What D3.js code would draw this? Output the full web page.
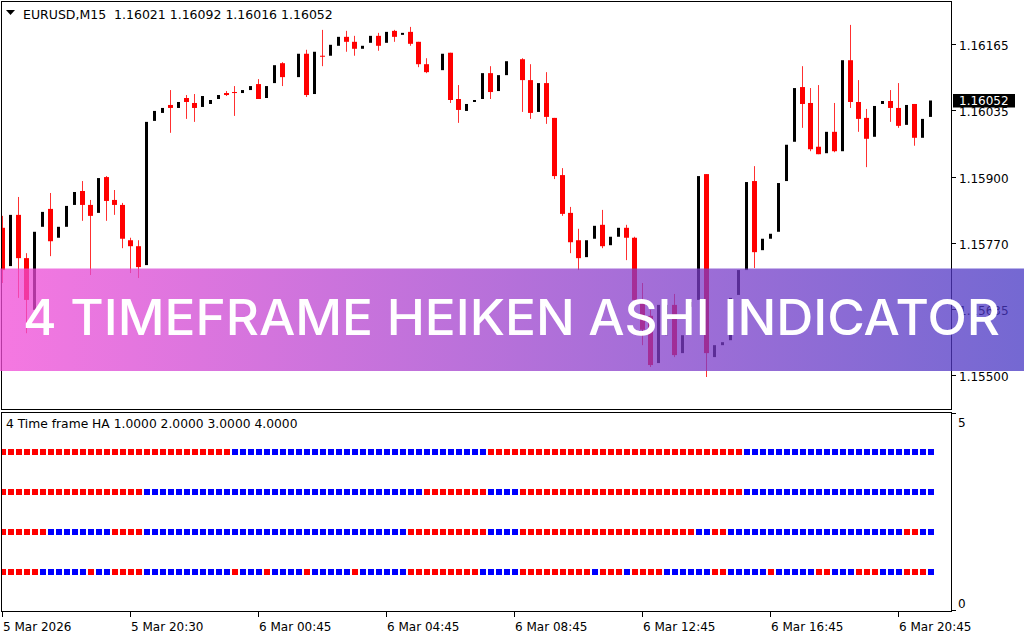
<!DOCTYPE html>
<html>
<head>
<meta charset="utf-8">
<script src="https://cdn.jsdelivr.net/npm/d3@7"></script>
<style>
  html, body { margin: 0; padding: 0; background: #fff; }
  svg { display: block; }
</style>
</head>
<body>
<div id="chart"></div>
<script>
// Heiken Ashi bars, EURUSD M15 (one value per bar)
var haOpen = [
  1.15796, 1.15719, 1.15822, 1.15735, 1.15631, 1.15798, 1.15834, 1.15776, 1.15798, 1.15842,
  1.15870, 1.15842, 1.15826, 1.15898, 1.15852, 1.15842, 1.15771, 1.15759, 1.15721, 1.16011,
  1.16027, 1.16043, 1.16037, 1.16057, 1.16047, 1.16039, 1.16045, 1.16055, 1.16067, 1.16069,
  1.16067, 1.16073, 1.16085, 1.16057, 1.16087, 1.16127, 1.16101, 1.16099, 1.16146, 1.16065,
  1.16142, 1.16142, 1.16162, 1.16180, 1.16170, 1.16156, 1.16168, 1.16182, 1.16168, 1.16192,
  1.16184, 1.16190, 1.16170, 1.16125, 1.16123, 1.16113, 1.16148, 1.16055, 1.16031, 1.16049,
  1.16055, 1.16107, 1.16071, 1.16103, 1.16129, 1.16135, 1.16093, 1.16029, 1.16087, 1.16017,
  1.15902, 1.15826, 1.15771, 1.15737, 1.15774, 1.15802, 1.15761, 1.15778, 1.15796, 1.15776,
  1.15651, 1.15619, 1.15524, 1.15580, 1.15641, 1.15544, 1.15637, 1.15651, 1.15904, 1.15536,
  1.15560, 1.15570, 1.15661, 1.15711, 1.15890, 1.15751, 1.15774, 1.15788, 1.15890, 1.15969,
  1.16079, 1.16047, 1.15959, 1.15946, 1.15989, 1.15950, 1.16133, 1.16049, 1.16017, 1.15979,
  1.16045, 1.16051, 1.16037, 1.16003, 1.16045, 1.15977, 1.16019
];
var haHigh = [
  1.15820, 1.15822, 1.15858, 1.15745, 1.15788, 1.15828, 1.15866, 1.15798, 1.15840, 1.15868,
  1.15890, 1.15852, 1.15896, 1.15900, 1.15872, 1.15846, 1.15776, 1.15771, 1.16009, 1.16031,
  1.16037, 1.16073, 1.16049, 1.16063, 1.16065, 1.16061, 1.16053, 1.16063, 1.16071, 1.16081,
  1.16073, 1.16081, 1.16095, 1.16081, 1.16123, 1.16129, 1.16101, 1.16146, 1.16154, 1.16150,
  1.16194, 1.16164, 1.16180, 1.16192, 1.16182, 1.16162, 1.16182, 1.16188, 1.16190, 1.16194,
  1.16188, 1.16200, 1.16170, 1.16137, 1.16123, 1.16146, 1.16148, 1.16083, 1.16045, 1.16053,
  1.16107, 1.16121, 1.16103, 1.16131, 1.16129, 1.16137, 1.16125, 1.16087, 1.16109, 1.16017,
  1.15916, 1.15838, 1.15794, 1.15771, 1.15800, 1.15832, 1.15778, 1.15796, 1.15802, 1.15778,
  1.15685, 1.15631, 1.15641, 1.15641, 1.15663, 1.15580, 1.15647, 1.15900, 1.15904, 1.15560,
  1.15566, 1.15655, 1.15711, 1.15888, 1.15920, 1.15774, 1.15784, 1.15886, 1.15963, 1.16077,
  1.16121, 1.16077, 1.16083, 1.15989, 1.16047, 1.16133, 1.16204, 1.16093, 1.16035, 1.16041,
  1.16051, 1.16073, 1.16087, 1.16043, 1.16045, 1.16015, 1.16052
];
var haLow = [
  1.15685, 1.15719, 1.15655, 1.15584, 1.15631, 1.15798, 1.15739, 1.15776, 1.15798, 1.15842,
  1.15810, 1.15701, 1.15826, 1.15810, 1.15822, 1.15755, 1.15705, 1.15695, 1.15721, 1.16011,
  1.16027, 1.15987, 1.16037, 1.16015, 1.16009, 1.16039, 1.16045, 1.16055, 1.16061, 1.16021,
  1.16067, 1.16073, 1.16055, 1.16057, 1.16087, 1.16081, 1.16101, 1.16099, 1.16059, 1.16065,
  1.16121, 1.16142, 1.16162, 1.16150, 1.16142, 1.16156, 1.16168, 1.16152, 1.16168, 1.16170,
  1.16184, 1.16162, 1.16119, 1.16107, 1.16123, 1.16113, 1.16047, 1.16007, 1.16031, 1.16049,
  1.16055, 1.16055, 1.16071, 1.16103, 1.16129, 1.16029, 1.16015, 1.16029, 1.16005, 1.15894,
  1.15820, 1.15745, 1.15711, 1.15737, 1.15774, 1.15755, 1.15761, 1.15778, 1.15731, 1.15647,
  1.15560, 1.15516, 1.15524, 1.15580, 1.15536, 1.15544, 1.15637, 1.15651, 1.15496, 1.15536,
  1.15560, 1.15570, 1.15661, 1.15711, 1.15715, 1.15751, 1.15774, 1.15788, 1.15890, 1.15969,
  1.15997, 1.15950, 1.15944, 1.15946, 1.15948, 1.15950, 1.16037, 1.15989, 1.15918, 1.15979,
  1.16045, 1.16009, 1.15997, 1.16003, 1.15961, 1.15977, 1.16019
];
var haClose = [
  1.15711, 1.15822, 1.15735, 1.15651, 1.15788, 1.15828, 1.15769, 1.15798, 1.15840, 1.15868,
  1.15842, 1.15820, 1.15896, 1.15850, 1.15842, 1.15774, 1.15759, 1.15717, 1.16009, 1.16031,
  1.16037, 1.16037, 1.16049, 1.16049, 1.16037, 1.16061, 1.16053, 1.16063, 1.16063, 1.16067,
  1.16073, 1.16081, 1.16055, 1.16081, 1.16123, 1.16099, 1.16101, 1.16146, 1.16063, 1.16150,
  1.16140, 1.16164, 1.16180, 1.16170, 1.16156, 1.16162, 1.16182, 1.16162, 1.16190, 1.16180,
  1.16188, 1.16166, 1.16125, 1.16109, 1.16123, 1.16146, 1.16053, 1.16033, 1.16045, 1.16053,
  1.16107, 1.16069, 1.16103, 1.16131, 1.16129, 1.16093, 1.16027, 1.16087, 1.16019, 1.15900,
  1.15824, 1.15767, 1.15735, 1.15771, 1.15800, 1.15759, 1.15778, 1.15796, 1.15776, 1.15651,
  1.15591, 1.15520, 1.15641, 1.15641, 1.15540, 1.15580, 1.15647, 1.15900, 1.15544, 1.15560,
  1.15566, 1.15655, 1.15711, 1.15888, 1.15747, 1.15774, 1.15784, 1.15886, 1.15963, 1.16077,
  1.16045, 1.15954, 1.15944, 1.15989, 1.15950, 1.16133, 1.16049, 1.16015, 1.15975, 1.16041,
  1.16051, 1.16037, 1.16001, 1.16043, 1.15977, 1.16015, 1.16052
];

// 4 timeframe HA trend per bar: R = bearish, B = bullish
var tf1Trend = "RRRRRRRRRRRRRRRRRRRRRRRRRRRRRBBBBBBBBBBBBBBBBBBBBBBBBBBBBBBBBRRRRRRRRRRRRRRRRRRRRRRRRRRRRRRRRBBBBBBBBBBBBBBBBBBBBBBBB";
var tf2Trend = "RRRRRRRRRRRRRRRRRRBBBBBBBBBBBBBBBBBBBBBBBBBBBBBBBBBBBRRRRRRRRBBBBRRRRRRRRRRRRRRRRRRRRRRRRRRRRBBBBBBBBBBBBBBBBBBBBBBBB";
var tf3Trend = "RRRRRRBBBBBBBBRRRRBBBBBBBBBBBBBBBBBBBBBBBBBBBBBBBBBRRRRRRRRRRBBBBRRRRRRRRRRRRRRRRRRRRRRBBRRBBBBBBBBBBBBBBBBBBBBBBRRBB";
var tf4Trend = "RRRRRBBBBBBRBBRRRRBBBBBBBBBBBRBBBRBBBBRBBBBBRBBBBBBRRRRRRRRRBBBBBRRRRRRRRRBRRRBRRRRBBBBBBRRBBBBBRBBBBBRRBBBRRRBBBRRRB";
var trendRows = [tf1Trend, tf2Trend, tf3Trend, tf4Trend];
var trendLevels = [4, 3, 2, 1];

var priceTicks = [1.15500, 1.15633, 1.15766, 1.15899, 1.16032, 1.16165];
var priceTickLabels = ['1.15500', '1.15635', '1.15770', '1.15900', '1.16035', '1.16165'];
var timeTickBars = [0, 16, 32, 48, 64, 80, 96, 112];
var timeTickLabels = ['5 Mar 2026', '5 Mar 20:30', '6 Mar 00:45', '6 Mar 04:45',
  '6 Mar 08:45', '6 Mar 12:45', '6 Mar 16:45', '6 Mar 20:45'];
var lastPrice = 1.16052;
var headerText = 'EURUSD,M15  1.16021 1.16092 1.16016 1.16052';
var indicatorTitle = '4 Time frame HA 1.0000 2.0000 3.0000 4.0000';
var bannerText = '4 TIMEFRAME HEIKEN ASHI INDICATOR';

var W = 1024, H = 640;
var font = "'DejaVu Sans', Tahoma, sans-serif";

var svg = d3.select('#chart').append('svg')
  .attr('width', W)
  .attr('height', H);

var x = d3.scaleLinear().domain([0, haOpen.length - 1]).range([2.5, 2.5 + 8 * (haOpen.length - 1)]);
var y = d3.scaleLinear().domain([1.15500, 1.16165]).range([375, 44.3]);
var yInd = d3.scaleLinear().domain([0, 5]).range([612, 412]);

svg.append('rect').attr('width', W).attr('height', H).attr('fill', '#fff');

// main pane
var bars = haOpen.map(function(o, i) {
  return {i: i, o: o, h: haHigh[i], l: haLow[i], c: haClose[i]};
});

var plot = svg.append('g');
plot.append('defs').append('clipPath').attr('id', 'mainclip')
  .append('rect').attr('x', 2).attr('y', 2).attr('width', 950).attr('height', 407);

var candles = plot.append('g').attr('clip-path', 'url(#mainclip)');

// bearish wicks only (bullish wick is drawn white in MT4)
candles.selectAll('line.wick')
  .data(bars.filter(function(d) { return d.c < d.o; }))
  .enter().append('line')
    .attr('class', 'wick')
    .attr('x1', function(d) { return x(d.i); })
    .attr('x2', function(d) { return x(d.i); })
    .attr('y1', function(d) { return y(d.h); })
    .attr('y2', function(d) { return y(d.l); })
    .attr('stroke', '#ff3030')
    .attr('stroke-width', 1);

candles.selectAll('rect.body')
  .data(bars.filter(function(d) { return d.c !== d.o; }))
  .enter().append('rect')
    .attr('class', 'body')
    .attr('x', function(d) { return d.c < d.o ? x(d.i) - 2.5 : x(d.i) - 1.5; })
    .attr('width', function(d) { return d.c < d.o ? 5 : 3; })
    .attr('y', function(d) { return y(Math.max(d.o, d.c)); })
    .attr('height', function(d) { return Math.max(1, Math.abs(y(d.o) - y(d.c))); })
    .attr('fill', function(d) { return d.c < d.o ? '#ff0000' : '#000000'; });

// frames
svg.append('rect').attr('x', 1.5).attr('y', 1.5).attr('width', 950).attr('height', 408)
  .attr('fill', 'none').attr('stroke', '#000');
svg.append('rect').attr('x', 1.5).attr('y', 412.5).attr('width', 950).attr('height', 199)
  .attr('fill', 'none').attr('stroke', '#000');

// header
svg.append('path').attr('d', 'M6,10L15,10L10.5,15Z').attr('fill', '#000');
svg.append('text').attr('x', 23).attr('y', 19)
  .attr('font-family', font).attr('font-size', 12.5).attr('fill', '#000')
  .style('white-space', 'pre')
  .text(headerText);

// price axis
var pAxis = svg.append('g');
pAxis.selectAll('line').data(priceTicks).enter().append('line')
  .attr('x1', 952).attr('x2', 956)
  .attr('y1', function(d) { return Math.round(y(d)) + 0.5; })
  .attr('y2', function(d) { return Math.round(y(d)) + 0.5; })
  .attr('stroke', '#000');
pAxis.selectAll('text').data(priceTicks).enter().append('text')
  .attr('x', 959)
  .attr('y', function(d) { return y(d) + 6; })
  .attr('font-family', font).attr('font-size', 12).attr('fill', '#000')
  .text(function(d, i) { return priceTickLabels[i]; });

// last price marker
svg.append('rect').attr('x', 953).attr('y', y(lastPrice) - 6.5)
  .attr('width', 62).attr('height', 13.5).attr('fill', '#000');
svg.append('text').attr('x', 959).attr('y', y(lastPrice) + 5)
  .attr('font-family', font).attr('font-size', 12).attr('fill', '#fff')
  .text(lastPrice.toFixed(5));

// indicator pane
svg.append('text').attr('x', 6).attr('y', 428)
  .attr('font-family', font).attr('font-size', 12.3).attr('fill', '#000')
  .text(indicatorTitle);

var dots = svg.append('g');
trendRows.forEach(function(row, r) {
  var cells = row.split('').map(function(s, i) { return {i: i, s: s}; });
  dots.selectAll('rect.r' + r).data(cells).enter().append('rect')
    .attr('class', 'r' + r)
    .attr('x', function(d) { return Math.max(2, x(d.i) - 2.5); })
    .attr('width', function(d) { return x(d.i) + 3.5 - Math.max(2, x(d.i) - 2.5); })
    .attr('y', yInd(trendLevels[r]) - 3)
    .attr('height', 6)
    .attr('fill', function(d) { return d.s === 'R' ? '#ff0000' : '#0000ff'; });
});

svg.append('line').attr('x1', 952).attr('x2', 956).attr('y1', 413.5).attr('y2', 413.5).attr('stroke', '#000');
svg.append('line').attr('x1', 952).attr('x2', 956).attr('y1', 610.5).attr('y2', 610.5).attr('stroke', '#000');
svg.append('text').attr('x', 958).attr('y', yInd(5) + 15)
  .attr('font-family', font).attr('font-size', 12).text('5');
svg.append('text').attr('x', 958).attr('y', yInd(0) - 4)
  .attr('font-family', font).attr('font-size', 12).text('0');

// time axis
var tAxis = svg.append('g');
tAxis.selectAll('line').data(timeTickBars).enter().append('line')
  .attr('x1', function(d) { return Math.floor(x(d)) + 0.5; })
  .attr('x2', function(d) { return Math.floor(x(d)) + 0.5; })
  .attr('y1', 612).attr('y2', 617)
  .attr('stroke', '#000');
tAxis.selectAll('text').data(timeTickBars).enter().append('text')
  .attr('x', function(d) { return Math.floor(x(d)) + 1; })
  .attr('y', 631)
  .attr('font-family', font).attr('font-size', 12).attr('fill', '#000')
  .text(function(d, i) { return timeTickLabels[i]; });

// promo banner over the chart
var grad = svg.append('defs').append('linearGradient').attr('id', 'bannergrad')
  .attr('x1', '0%').attr('x2', '100%').attr('y1', '0%').attr('y2', '0%');
grad.append('stop').attr('offset', '0%').attr('stop-color', '#f24bd7');
grad.append('stop').attr('offset', '100%').attr('stop-color', '#4636c3');

svg.append('rect').attr('x', 0).attr('y', 268.5).attr('width', W).attr('height', 102.5)
  .attr('fill', 'url(#bannergrad)').attr('opacity', 0.75);
svg.append('text').attr('x', 23).attr('y', 335)
  .attr('font-family', "Inter, 'Open Sans', sans-serif").attr('font-weight', 500)
  .attr('font-size', 49).attr('fill', '#fff')
  .attr('textLength', 977).attr('lengthAdjust', 'spacingAndGlyphs')
  .text(bannerText);
</script>
</body>
</html>
